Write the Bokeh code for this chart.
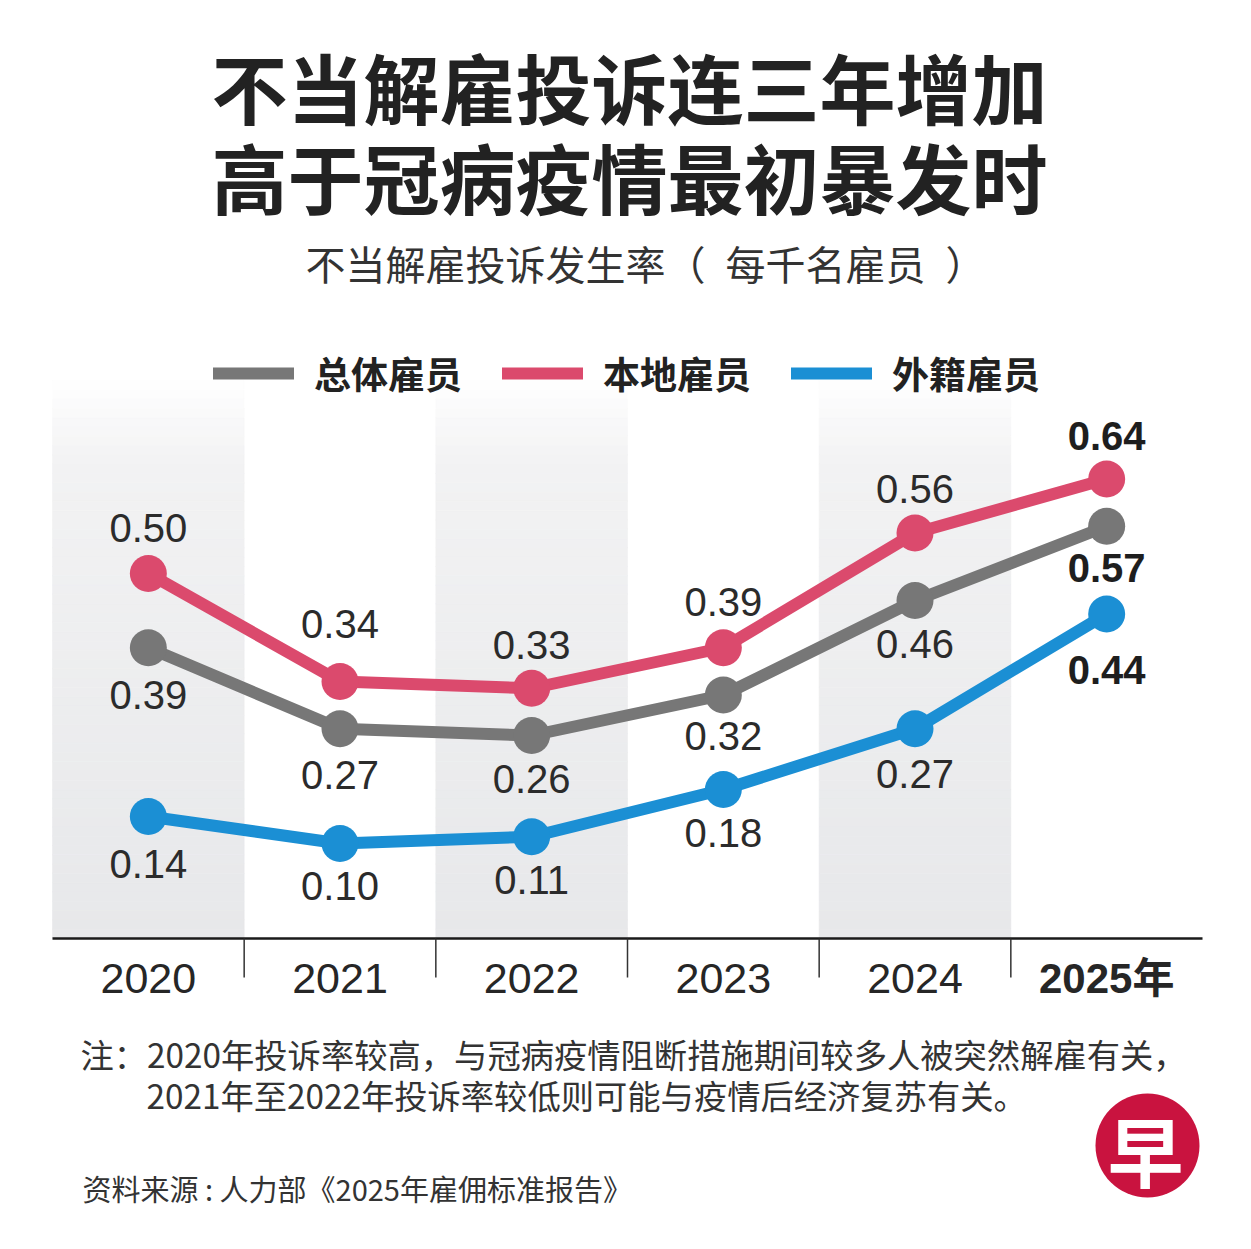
import numpy as np
from bokeh.plotting import figure
from bokeh.models import ColumnDataSource, Range1d, Label, Legend, LegendItem
from bokeh.core.properties import value, field
from bokeh.embed import file_html
from bokeh.resources import INLINE

# ---------------- data ----------------
years = ["2020", "2021", "2022", "2023", "2024", "2025年"]
overall = [0.39, 0.27, 0.26, 0.32, 0.46, 0.57]
local = [0.50, 0.34, 0.33, 0.39, 0.56, 0.64]
foreign = [0.14, 0.10, 0.11, 0.18, 0.27, 0.44]
series_names = ["总体雇员", "本地雇员", "外籍雇员"]

title_lines = ["不当解雇投诉连三年增加", "高于冠病疫情最初暴发时"]
subtitle = "不当解雇投诉发生率（\u2002每千名雇员\u2002）"
note_lines = ["注：2020年投诉率较高，与冠病疫情阻断措施期间较多人被突然解雇有关，",
              "2021年至2022年投诉率较低则可能与疫情后经济复苏有关。"]
source_text = "资料来源 : 人力部《2025年雇佣标准报告》"
logo_text = "早"

# value-label pixel offsets (screen px, + = down)
local_dy = [-46, -58, -43, -46, -44, -43]
overall_dy = [47, 46, 43, 41, 43, 42]
foreign_dy = [47, 42, 43, 43, 45, 56]

colors = {"overall": "#777777", "local": "#db4a6d", "foreign": "#1b8fd4"}
CJK = "Noto Sans CJK SC"

# ---------------- geometry ----------------
W, H = 1235, 1233
COL_PX = 1150 / 6          # pixel width of one year column
X0_PX = 52                 # pixel x of the left edge of the chart area
ZERO_PX = 910.5            # pixel y of value 0
UNIT_PX = 675              # pixels per 1.0 value
AXIS_PX = 938              # pixel y of the x-axis line
SHADE_TOP_PX = 380


def dx(px):
    return (px - X0_PX) / COL_PX


def dv(py):
    return (ZERO_PX - py) / UNIT_PX


p = figure(width=W, height=H, output_backend="svg", toolbar_location=None,
           x_range=Range1d(dx(0), dx(W)), y_range=Range1d(dv(H), dv(0)),
           x_axis_location=None, y_axis_location=None,
           min_border=0, min_border_left=0, min_border_right=0,
           min_border_top=0, min_border_bottom=0)
p.outline_line_color = None
p.grid.visible = False
p.background_fill_color = "white"
p.border_fill_color = "white"

n_years = len(years)
xs = [i + 0.5 for i in range(n_years)]
axis_v = dv(AXIS_PX)

# shaded alternate columns with vertical gradient
shade_cols = [0, 2, 4]
nb = 60
edges = np.linspace(dv(SHADE_TOP_PX), axis_v, nb + 1)
top_col = np.array([255, 255, 255])
mid_col = np.array([242, 242, 243])
bot_col = np.array([231, 232, 234])
qs = dict(left=[], right=[], top=[], bottom=[], color=[])
for k in range(nb):
    t = (k + 0.5) / nb
    if t < 0.15:
        c = top_col + (mid_col - top_col) * (t / 0.15)
    else:
        c = mid_col + (bot_col - mid_col) * ((t - 0.15) / 0.85)
    hexc = "#%02x%02x%02x" % tuple(int(round(v)) for v in c)
    for ci in shade_cols:
        qs["left"].append(ci)
        qs["right"].append(ci + 1)
        qs["top"].append(edges[k])
        qs["bottom"].append(edges[k + 1])
        qs["color"].append(hexc)
p.quad(left="left", right="right", top="top", bottom="bottom", color="color",
       line_width=0.6, line_color="color", source=ColumnDataSource(qs))

# x axis: baseline, column separators, year labels
p.segment(x0=[0], x1=[n_years], y0=[axis_v], y1=[axis_v], line_color="#1a1a1a", line_width=2.6)
sep_x = list(range(1, n_years))
p.segment(x0=sep_x, x1=sep_x, y0=[axis_v] * len(sep_x), y1=[dv(AXIS_PX + 39)] * len(sep_x),
          line_color="#333333", line_width=1.5)
ysrc = ColumnDataSource(dict(x=xs, y=[dv(AXIS_PX + 39.5)] * n_years, t=years,
                             style=["normal"] * (n_years - 1) + ["bold"],
                             size=["43px"] * (n_years - 1) + ["42px"]))
p.text(x="x", y="y", text="t", source=ysrc, text_font=value("Liberation Sans, Noto Sans CJK SC"),
       text_font_size="size", text_font_style=field("style"), text_color="#262626",
       text_align="center", text_baseline="middle")

# lines + markers
renderers = []
for key, vals in (("overall", overall), ("local", local), ("foreign", foreign)):
    r = p.line(xs, vals, line_width=12, line_color=colors[key], line_cap="round",
               line_join="round")
    p.scatter(xs, vals, size=37, fill_color=colors[key], line_color=None)
    renderers.append(r)

# value labels
for vals, dys in ((local, local_dy), (overall, overall_dy), (foreign, foreign_dy)):
    n = len(vals)
    src = ColumnDataSource(dict(
        x=xs, y=vals, label=["%.2f" % v for v in vals], dy=dys,
        style=["normal"] * (n - 1) + ["bold"],
        col=["#2b2b2b"] * (n - 1) + ["#1e1e1e"],
    ))
    p.text(x="x", y="y", text="label", y_offset="dy", source=src,
           text_font=value("Liberation Sans"), text_font_size="40px",
           text_font_style=field("style"), text_color="col",
           text_align="center", text_baseline="middle")

# legend
legend = Legend(items=[LegendItem(label=n, renderers=[r]) for n, r in zip(series_names, renderers)],
                orientation="horizontal", location=(213, H - 400),
                glyph_width=81, glyph_height=40, label_height=40, label_standoff=20,
                spacing=40, padding=0, margin=0, border_line_alpha=0,
                background_fill_alpha=0, label_text_font=CJK,
                label_text_font_style="bold", label_text_font_size="37px",
                label_text_color="#222222", label_text_baseline="middle")
p.add_layout(legend)


def add_text(x_px, y_px, text, size, align="left", bold=False, color="#333333"):
    p.add_layout(Label(x=x_px, y=H - y_px, x_units="screen", y_units="screen", text=text,
                       text_font=CJK, text_font_size=size,
                       text_font_style="bold" if bold else "normal",
                       text_color=color, text_align=align, text_baseline="middle"))


# titles
add_text(629, 85, title_lines[0], "76px", "center", True, "#222222")
add_text(629, 175, title_lines[1], "76px", "center", True, "#222222")
add_text(645, 262, subtitle, "40px", "center")

# notes and source
add_text(80, 1053, note_lines[0], "33.3px")
add_text(146, 1094, note_lines[1], "33.3px")
add_text(82, 1187, source_text, "29px")

# logo
p.scatter([dx(1147)], [dv(1145)], size=104, fill_color="#c9133f", line_color=None)
add_text(1145, 1148, logo_text, "76px", "center", True, "white")

open("out.html", "w").write(file_html(p, INLINE))
